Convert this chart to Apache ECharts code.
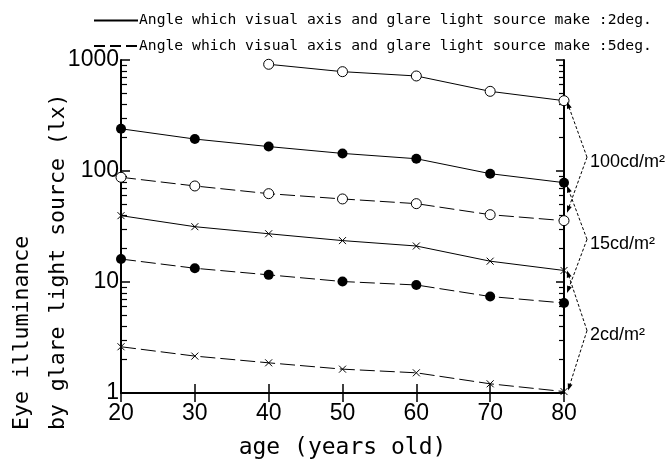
<!DOCTYPE html>
<html><head><meta charset="utf-8">
<script src="https://cdn.jsdelivr.net/npm/echarts@6/dist/echarts.min.js"></script>
<style>html,body{margin:0;padding:0;background:#fff}#c{width:672px;height:459px}</style>
</head><body><div id="c"></div>
<script>
// ---- data ----
const ages = [20, 30, 40, 50, 60, 70, 80];
const lum100_2deg = [null, null, 915, 785, 718, 522, 430];
const lum15_2deg = [240, 194, 166, 144, 129, 94.6, 78.5];
const lum100_5deg = [87.8, 73.3, 62.5, 56, 50.8, 40.4, 35.7];
const lum2_2deg = [39.6, 31.5, 27.2, 23.6, 21.1, 15.4, 12.7];
const lum15_5deg = [16.1, 13.3, 11.6, 10.1, 9.4, 7.4, 6.47];
const lum2_5deg = [2.61, 2.15, 1.87, 1.64, 1.52, 1.21, 1.03];
const yTickLabels = ['1', '10', '100', '1000'];
const legendNames = [
  'Angle which visual axis and glare light source make :2deg.',
  'Angle which visual axis and glare light source make :5deg.'
];
const luminanceLabels = ['100cd/m²', '15cd/m²', '2cd/m²'];
const xTitle = 'age (years old)';
const yTitle = ['Eye illuminance', 'by glare light source (lx)'];

// ---- styles ----
const BLACK = '#000';
const MONO = 'DejaVu Sans Mono';
const SANS = 'Liberation Sans';
const DASH = [15, 5];
const CROSS = 'path://M0,0L10,10M10,0L0,10';

function pairs(vals) {
  const out = [];
  ages.forEach((a, i) => { if (vals[i] != null) out.push([a, vals[i]]); });
  return out;
}
function mkSeries(vals, kind, dashed) {
  let symbol = 'circle', size = 10, item;
  if (kind === 'open') item = { color: '#fff', borderColor: BLACK, borderWidth: 1 };
  else if (kind === 'filled') item = { color: BLACK, borderColor: BLACK, borderWidth: 0 };
  else { symbol = CROSS; size = 7; item = { color: 'none', borderColor: BLACK, borderWidth: 1 }; }
  return {
    type: 'line', data: pairs(vals), xAxisIndex: 0, yAxisIndex: 0,
    symbol: symbol, symbolSize: size, showSymbol: true, clip: false,
    itemStyle: item,
    lineStyle: { color: BLACK, width: 1, type: dashed ? DASH : 'solid' },
    emphasis: { disabled: true }, silent: true, z: 3
  };
}

// minor log ticks (2..9 within each decade), expressed in log10 space
const minorTicks = [];
for (let d = 0; d < 3; d++) for (let k = 2; k <= 9; k++) minorTicks.push(d + Math.log10(k));

const axisLine = { show: true, lineStyle: { color: BLACK, width: 2 } };
const chart = echarts.init(document.getElementById('c'), null, { renderer: 'canvas' });

const option = {
  animation: false,
  backgroundColor: '#fff',
  grid: { left: 121, right: 108, top: 60, bottom: 66, containLabel: false, outerBoundsMode: 'none' },
  legend: {
    orient: 'vertical', left: 93, top: 13, padding: 0,
    itemWidth: 44, itemHeight: 14, itemGap: 10.5, selectedMode: false,
    itemStyle: { opacity: 0 },
    textStyle: { fontFamily: MONO, fontSize: 14.7, color: BLACK, lineHeight: 14, padding: [0, 0, 0, -4] },
    data: legendNames
  },
  xAxis: [
    {
      type: 'value', min: 20, max: 80, interval: 10, position: 'bottom',
      axisLine: axisLine,
      axisTick: { inside: true, length: 9, lineStyle: { color: BLACK, width: 1.5 } },
      axisLabel: { fontFamily: SANS, fontSize: 23, color: BLACK, margin: 9 },
      splitLine: { show: false },
      name: xTitle, nameLocation: 'middle', nameGap: 44,
      nameTextStyle: { fontFamily: MONO, fontSize: 23, color: BLACK }
    },
    {
      type: 'value', min: 20, max: 80, interval: 10, position: 'top',
      axisLine: axisLine,
      axisTick: { inside: true, length: 9, lineStyle: { color: BLACK, width: 1.5 } },
      axisLabel: { show: false }, splitLine: { show: false }
    }
  ],
  yAxis: [
    {
      type: 'log', logBase: 10, min: 1, max: 1000, position: 'left',
      axisLine: axisLine,
      axisTick: { inside: true, length: 9, lineStyle: { color: BLACK, width: 1.5 } },
      axisLabel: {
        fontFamily: SANS, fontSize: 23, color: BLACK, margin: 2,
        formatter: (v) => yTickLabels[Math.round(Math.log10(v))]
      },
      splitLine: { show: false }
    },
    {
      type: 'value', min: 0, max: 3, position: 'left',
      axisLine: { show: false },
      axisTick: { show: true, inside: true, length: 6, customValues: minorTicks, lineStyle: { color: BLACK, width: 1.2 } },
      axisLabel: { show: false }, splitLine: { show: false }
    },
    {
      type: 'log', logBase: 10, min: 1, max: 1000, position: 'right',
      axisLine: axisLine,
      axisTick: { inside: true, length: 8, lineStyle: { color: BLACK, width: 1.5 } },
      axisLabel: { show: false }, splitLine: { show: false }
    },
    {
      type: 'value', min: 0, max: 3, position: 'right',
      axisLine: { show: false },
      axisTick: { show: true, inside: true, length: 5, customValues: minorTicks, lineStyle: { color: BLACK, width: 1.2 } },
      axisLabel: { show: false }, splitLine: { show: false }
    }
  ],
  series: [
    { name: legendNames[0], type: 'line', data: [], symbol: 'emptyCircle', lineStyle: { color: BLACK, width: 1, type: 'solid' }, itemStyle: { color: BLACK, opacity: 0 } },
    { name: legendNames[1], type: 'line', data: [], symbol: 'emptyCircle', lineStyle: { color: BLACK, width: 1, type: [11, 5] }, itemStyle: { color: BLACK, opacity: 0 } },
    mkSeries(lum100_2deg, 'open', false),
    mkSeries(lum15_2deg, 'filled', false),
    mkSeries(lum2_2deg, 'cross', false),
    mkSeries(lum100_5deg, 'open', true),
    mkSeries(lum15_5deg, 'filled', true),
    mkSeries(lum2_5deg, 'cross', true)
  ]
};
chart.setOption(option);

// ---- annotations: brackets linking the 2deg and 5deg end points of each luminance ----
const pairsAt80 = [[lum100_2deg, lum100_5deg], [lum15_2deg, lum15_5deg], [lum2_2deg, lum2_5deg]];
const tipOffsets = [[3, 1, 3, -8], [3, 3, 3, -10], [3, 0, 4, -1]];
const graphics = [];
function arrow(from, to) {
  const dx = to[0] - from[0], dy = to[1] - from[1];
  const len = Math.hypot(dx, dy), ux = dx / len, uy = dy / len;
  const L = 7, W = 2.5;
  graphics.push({ type: 'line', silent: true, z: 10,
    shape: { x1: from[0], y1: from[1], x2: to[0] - ux * 3, y2: to[1] - uy * 3 },
    style: { stroke: BLACK, lineWidth: 1, lineDash: [3, 2] } });
  graphics.push({ type: 'polygon', silent: true, z: 10,
    shape: { points: [[to[0], to[1]],
      [to[0] - ux * L - uy * W, to[1] - uy * L + ux * W],
      [to[0] - ux * L + uy * W, to[1] - uy * L - ux * W]] },
    style: { fill: BLACK } });
}
pairsAt80.forEach((pr, i) => {
  const last = ages.length - 1;
  const p1 = chart.convertToPixel({ xAxisIndex: 0, yAxisIndex: 0 }, [ages[last], pr[0][last]]);
  const p2 = chart.convertToPixel({ xAxisIndex: 0, yAxisIndex: 0 }, [ages[last], pr[1][last]]);
  const o = tipOffsets[i];
  const t1 = [p1[0] + o[0], p1[1] + o[1]];
  const t2 = [p2[0] + o[2], p2[1] + o[3]];
  const v = [p1[0] + 23, (t1[1] + t2[1]) / 2];
  arrow(v, t1);
  arrow(v, t2);
  graphics.push({ type: 'text', silent: true, z: 10, x: v[0] + 3, y: v[1] + 5,
    style: { text: luminanceLabels[i], fontFamily: SANS, fontSize: 18, fill: BLACK, align: 'left', verticalAlign: 'middle' } });
});
// y-axis title (two lines, rotated)
const yTitleX = [22, 58];
yTitle.forEach((t, i) => {
  graphics.push({ type: 'text', silent: true, x: yTitleX[i], y: 430, rotation: Math.PI / 2,
    style: { text: t, fontFamily: MONO, fontSize: 21.5, fill: BLACK, align: 'left', verticalAlign: 'middle' } });
});
chart.setOption({ graphic: graphics });
</script>
</body></html>
